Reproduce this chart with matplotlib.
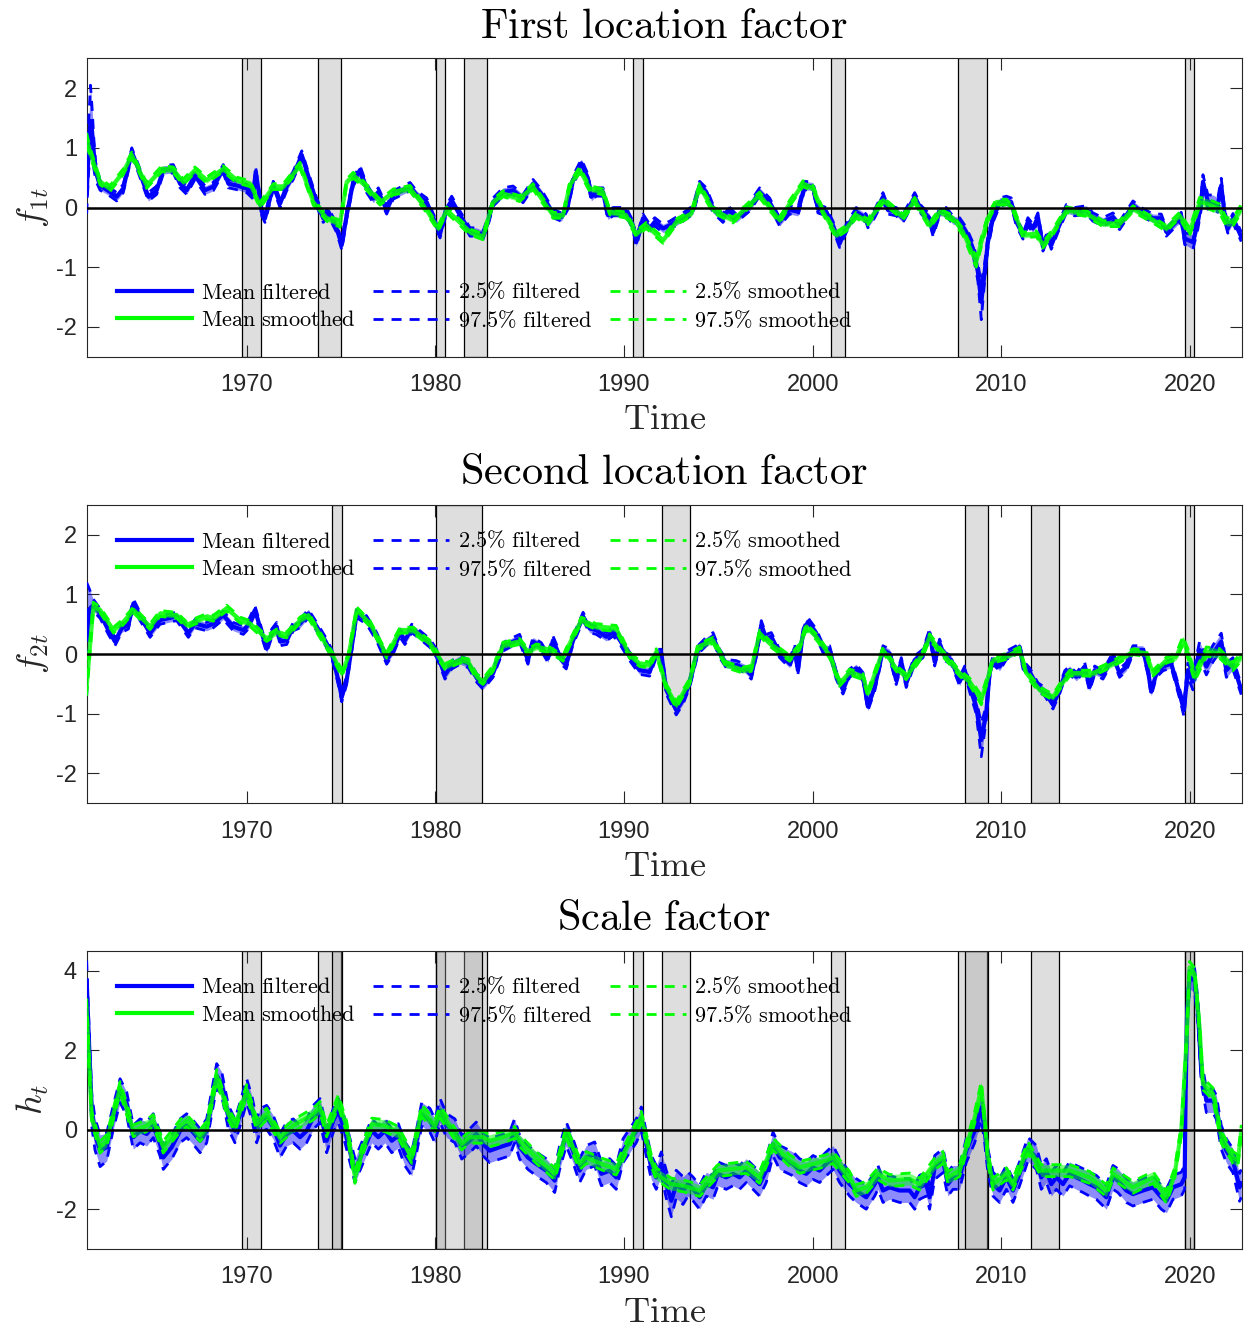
import numpy as np
import matplotlib
matplotlib.use("Agg")
import matplotlib.pyplot as plt
from matplotlib.lines import Line2D

plt.rcParams['mathtext.fontset'] = 'cm'
plt.rcParams['font.family'] = ['Liberation Sans', 'DejaVu Sans']
plt.rcParams['axes.unicode_minus'] = False

# ---------------- data: [year, mean, half-width of 95% band] ----------------
P1_FILT = np.array([
    [1961.52, 0.20, 0.30], [1961.62, 1.00, 0.40], [1961.72, 1.45, 0.60], [1961.80, 1.30, 0.40],
    [1961.90, 0.90, 0.25], [1962.00, 0.60, 0.15], [1962.23, 0.37, 0.08], [1962.76, 0.26, 0.07],
    [1963.11, 0.18, 0.07], [1963.46, 0.32, 0.07], [1963.91, 0.93, 0.07], [1964.26, 0.65, 0.07],
    [1964.79, 0.18, 0.07], [1965.23, 0.29, 0.07], [1965.58, 0.63, 0.07], [1966.11, 0.65, 0.07],
    [1966.47, 0.40, 0.07], [1966.82, 0.29, 0.07], [1967.26, 0.54, 0.07], [1967.79, 0.29, 0.07],
    [1968.23, 0.35, 0.07], [1968.76, 0.65, 0.07], [1969.03, 0.40, 0.07], [1969.47, 0.37, 0.07],
    [1970.00, 0.32, 0.07], [1970.35, 0.21, 0.07], [1970.48, 0.60, 0.07], [1970.80, -0.07, 0.07],
    [1970.97, -0.18, 0.07], [1971.41, 0.37, 0.07], [1971.77, 0.07, 0.07], [1972.12, 0.35, 0.07],
    [1972.47, 0.54, 0.07], [1972.92, 0.88, 0.07], [1973.36, 0.43, 0.07], [1973.71, 0.09, 0.07],
    [1974.06, -0.18, 0.07], [1974.33, -0.07, 0.07], [1974.77, -0.35, 0.07], [1975.04, -0.63, 0.08],
    [1975.30, -0.13, 0.07], [1975.65, 0.43, 0.07], [1976.01, 0.63, 0.07], [1976.36, 0.32, 0.07],
    [1976.71, 0.15, 0.07], [1976.98, 0.26, 0.07], [1977.42, -0.04, 0.07], [1977.77, 0.21, 0.07],
    [1978.66, 0.35, 0.07], [1979.01, 0.21, 0.07], [1979.54, 0.09, 0.07], [1979.90, -0.18, 0.07],
    [1980.25, -0.44, 0.07], [1980.60, -0.02, 0.07], [1980.87, 0.12, 0.07], [1981.31, -0.13, 0.07],
    [1981.84, -0.41, 0.07], [1982.17, -0.41, 0.07], [1982.53, -0.46, 0.07], [1982.79, -0.24, 0.07],
    [1983.06, 0.09, 0.07], [1983.59, 0.26, 0.07], [1984.12, 0.29, 0.07], [1984.65, 0.15, 0.07],
    [1985.18, 0.40, 0.07], [1985.62, 0.23, 0.07], [1986.24, -0.10, 0.07], [1986.68, -0.16, 0.07],
    [1987.03, 0.04, 0.07], [1987.30, 0.46, 0.07], [1987.74, 0.74, 0.07], [1988.09, 0.49, 0.07],
    [1988.27, 0.18, 0.07], [1988.53, 0.26, 0.07], [1988.89, 0.26, 0.07], [1989.15, -0.13, 0.07],
    [1989.42, -0.07, 0.07], [1990.12, -0.07, 0.07], [1990.48, -0.30, 0.07], [1990.65, -0.58, 0.07],
    [1991.01, -0.18, 0.07], [1991.36, -0.35, 0.07], [1991.63, -0.24, 0.07], [1992.07, -0.35, 0.07],
    [1992.42, -0.30, 0.07], [1993.13, -0.16, 0.07], [1993.66, -0.04, 0.07], [1994.01, 0.37, 0.07],
    [1994.36, 0.26, 0.07], [1994.72, -0.02, 0.07], [1995.25, -0.18, 0.07], [1995.51, -0.04, 0.07],
    [1995.95, -0.18, 0.07], [1996.66, 0.01, 0.07], [1997.19, 0.26, 0.07], [1997.72, 0.09, 0.07],
    [1998.25, -0.24, 0.07], [1998.78, -0.04, 0.07], [1999.22, -0.07, 0.07], [1999.58, 0.37, 0.07],
    [2000.02, 0.35, 0.07], [2000.28, -0.02, 0.07], [2000.72, -0.07, 0.07], [2001.08, -0.30, 0.07],
    [2001.43, -0.60, 0.07], [2001.78, -0.35, 0.07], [2002.31, -0.07, 0.07], [2002.84, -0.18, 0.07],
    [2002.93, -0.27, 0.07], [2003.29, -0.10, 0.07], [2003.73, 0.18, 0.07], [2003.99, -0.04, 0.07],
    [2004.43, -0.07, 0.07], [2004.79, -0.18, 0.07], [2005.41, 0.18, 0.07], [2005.76, -0.04, 0.07],
    [2006.20, -0.18, 0.07], [2006.38, -0.41, 0.07], [2006.73, -0.07, 0.07], [2007.08, -0.07, 0.07],
    [2007.44, -0.21, 0.07], [2007.79, -0.24, 0.07], [2008.14, -0.41, 0.08], [2008.50, -0.69, 0.10],
    [2008.76, -1.08, 0.15], [2008.94, -1.58, 0.30], [2009.12, -1.08, 0.15], [2009.29, -0.58, 0.10],
    [2009.56, -0.18, 0.07], [2009.91, 0.09, 0.07], [2010.27, 0.12, 0.07], [2010.53, 0.09, 0.07],
    [2010.80, -0.24, 0.07], [2011.15, -0.46, 0.07], [2011.41, -0.24, 0.07], [2011.68, -0.35, 0.07],
    [2011.94, -0.16, 0.07], [2012.21, -0.66, 0.07], [2012.47, -0.46, 0.07], [2012.65, -0.63, 0.07],
    [2013.00, -0.35, 0.07], [2013.45, -0.02, 0.07], [2013.89, -0.07, 0.07], [2014.51, -0.04, 0.07],
    [2014.86, -0.16, 0.07], [2015.39, -0.24, 0.07], [2015.92, -0.16, 0.07], [2016.27, -0.30, 0.07],
    [2016.63, -0.13, 0.07], [2016.98, 0.04, 0.07], [2017.42, -0.07, 0.07], [2018.04, -0.18, 0.07],
    [2018.48, -0.18, 0.07], [2018.75, -0.41, 0.07], [2019.28, -0.24, 0.07], [2019.54, -0.16, 0.08],
    [2019.72, -0.52, 0.10], [2020.16, -0.58, 0.12], [2020.42, -0.24, 0.12], [2020.60, 0.09, 0.12],
    [2020.69, 0.43, 0.12], [2020.95, 0.09, 0.12], [2021.22, 0.09, 0.12], [2021.48, 0.04, 0.12],
    [2021.66, 0.37, 0.12], [2021.84, -0.13, 0.10], [2022.01, -0.35, 0.08], [2022.28, -0.18, 0.08],
    [2022.72, -0.49, 0.08],
])

P1_SMOOTH = np.array([
    [1961.52, 1.15, 0.10], [1961.70, 0.93, 0.08], [1962.23, 0.43, 0.05], [1962.76, 0.32, 0.05],
    [1963.46, 0.60, 0.05], [1963.91, 0.88, 0.05], [1964.70, 0.37, 0.05], [1965.50, 0.65, 0.05],
    [1966.11, 0.63, 0.05], [1966.64, 0.43, 0.05], [1967.26, 0.63, 0.05], [1967.88, 0.46, 0.05],
    [1968.76, 0.65, 0.05], [1969.47, 0.46, 0.05], [1970.18, 0.40, 0.05], [1970.71, 0.04, 0.05],
    [1971.41, 0.35, 0.05], [1971.94, 0.35, 0.05], [1972.83, 0.71, 0.05], [1973.53, 0.09, 0.05],
    [1974.24, -0.18, 0.05], [1974.95, -0.27, 0.06], [1975.30, 0.43, 0.05], [1975.65, 0.54, 0.05],
    [1976.18, 0.40, 0.05], [1977.07, 0.09, 0.05], [1977.77, 0.26, 0.05], [1978.66, 0.32, 0.05],
    [1979.36, 0.04, 0.05], [1980.16, -0.35, 0.05], [1980.60, -0.04, 0.05], [1981.84, -0.41, 0.05],
    [1982.53, -0.49, 0.05], [1983.06, 0.09, 0.05], [1983.59, 0.23, 0.05], [1984.47, 0.15, 0.05],
    [1985.18, 0.35, 0.05], [1986.24, -0.13, 0.05], [1986.77, -0.13, 0.05], [1987.12, 0.37, 0.05],
    [1987.65, 0.63, 0.05], [1988.18, 0.32, 0.05], [1988.89, 0.26, 0.05], [1989.24, -0.07, 0.05],
    [1990.12, -0.13, 0.05], [1990.65, -0.44, 0.05], [1991.18, -0.30, 0.05], [1992.07, -0.55, 0.05],
    [1992.77, -0.24, 0.05], [1993.57, -0.10, 0.05], [1994.01, 0.35, 0.05], [1994.72, -0.04, 0.05],
    [1995.78, -0.21, 0.05], [1997.19, 0.21, 0.05], [1998.25, -0.21, 0.05], [1998.78, 0.07, 0.05],
    [1999.49, 0.40, 0.05], [2000.02, 0.32, 0.05], [2000.55, -0.07, 0.05], [2001.25, -0.46, 0.05],
    [2001.78, -0.35, 0.05], [2002.31, -0.13, 0.05], [2002.93, -0.24, 0.05], [2003.73, 0.12, 0.05],
    [2004.79, -0.16, 0.05], [2005.41, 0.12, 0.05], [2006.20, -0.30, 0.05], [2006.73, -0.07, 0.05],
    [2007.44, -0.18, 0.05], [2007.97, -0.41, 0.06], [2008.50, -0.80, 0.08], [2008.67, -0.91, 0.09],
    [2008.94, -0.58, 0.08], [2009.29, -0.18, 0.06], [2009.73, 0.09, 0.05], [2010.27, 0.09, 0.05],
    [2010.62, -0.02, 0.05], [2011.15, -0.46, 0.05], [2011.86, -0.44, 0.05], [2012.21, -0.63, 0.05],
    [2012.74, -0.41, 0.05], [2013.45, -0.04, 0.05], [2014.51, -0.10, 0.05], [2015.39, -0.27, 0.05],
    [2016.27, -0.27, 0.05], [2016.98, -0.02, 0.05], [2018.04, -0.21, 0.05], [2018.75, -0.35, 0.05],
    [2019.45, -0.13, 0.05], [2019.98, -0.41, 0.07], [2020.51, 0.09, 0.08], [2020.87, 0.07, 0.08],
    [2021.57, -0.02, 0.08], [2021.93, -0.24, 0.07], [2022.28, -0.24, 0.07], [2022.72, -0.02, 0.07],
])

P2_FILT = np.array([
    [1961.52, 0.25, 0.95], [1961.65, 0.75, 0.35], [1961.87, 0.82, 0.10], [1962.23, 0.68, 0.08],
    [1962.67, 0.40, 0.07], [1963.02, 0.21, 0.07], [1963.37, 0.43, 0.07], [1963.73, 0.49, 0.07],
    [1964.00, 0.85, 0.07], [1964.35, 0.63, 0.07], [1964.88, 0.35, 0.07], [1965.41, 0.57, 0.07],
    [1965.85, 0.60, 0.07], [1966.29, 0.63, 0.07], [1966.91, 0.35, 0.07], [1967.26, 0.51, 0.07],
    [1967.88, 0.46, 0.07], [1968.23, 0.51, 0.07], [1968.76, 0.65, 0.07], [1969.29, 0.46, 0.07],
    [1969.82, 0.40, 0.07], [1970.09, 0.49, 0.07], [1970.44, 0.74, 0.07], [1970.80, 0.35, 0.07],
    [1971.06, 0.09, 0.07], [1971.33, 0.35, 0.07], [1971.59, 0.46, 0.07], [1971.77, 0.21, 0.07],
    [1972.12, 0.23, 0.07], [1972.47, 0.46, 0.07], [1972.83, 0.51, 0.07], [1973.27, 0.68, 0.07],
    [1973.71, 0.46, 0.07], [1974.15, 0.23, 0.07], [1974.51, 0.01, 0.07], [1974.86, -0.44, 0.08],
    [1975.04, -0.72, 0.08], [1975.30, -0.44, 0.07], [1975.57, 0.12, 0.07], [1975.83, 0.68, 0.07],
    [1976.36, 0.57, 0.07], [1976.89, 0.29, 0.07], [1977.42, -0.10, 0.07], [1977.77, 0.07, 0.07],
    [1978.13, 0.35, 0.07], [1978.39, 0.23, 0.07], [1978.75, 0.43, 0.07], [1979.19, 0.32, 0.07],
    [1979.72, 0.18, 0.07], [1980.07, 0.01, 0.07], [1980.51, -0.35, 0.07], [1980.87, -0.18, 0.07],
    [1981.31, -0.10, 0.07], [1981.75, -0.16, 0.07], [1982.19, -0.40, 0.07], [1982.53, -0.52, 0.07],
    [1983.06, -0.32, 0.07], [1983.59, 0.12, 0.07], [1983.94, 0.18, 0.07], [1984.47, 0.26, 0.07],
    [1984.91, -0.10, 0.07], [1985.18, 0.21, 0.07], [1985.62, 0.12, 0.07], [1985.97, -0.07, 0.07],
    [1986.24, 0.23, 0.07], [1986.68, -0.10, 0.07], [1986.94, -0.18, 0.07], [1987.30, 0.23, 0.07],
    [1987.83, 0.63, 0.07], [1988.18, 0.43, 0.07], [1988.53, 0.40, 0.07], [1989.06, 0.29, 0.07],
    [1989.42, 0.37, 0.07], [1989.68, 0.29, 0.07], [1990.30, -0.04, 0.07], [1990.83, -0.27, 0.07],
    [1991.36, -0.30, 0.07], [1991.71, 0.01, 0.07], [1991.98, 0.01, 0.07], [1992.24, -0.60, 0.07],
    [1992.77, -0.94, 0.08], [1993.13, -0.77, 0.07], [1993.48, -0.49, 0.07], [1993.92, 0.07, 0.07],
    [1994.36, 0.21, 0.07], [1994.72, 0.29, 0.07], [1995.07, 0.01, 0.07], [1995.42, -0.16, 0.07],
    [1995.95, -0.18, 0.07], [1996.40, -0.24, 0.07], [1996.75, -0.35, 0.07], [1997.01, 0.01, 0.07],
    [1997.28, 0.49, 0.07], [1997.54, 0.26, 0.07], [1997.81, 0.29, 0.07], [1998.25, 0.01, 0.07],
    [1998.78, -0.16, 0.07], [1999.05, 0.09, 0.07], [1999.22, -0.27, 0.07], [1999.49, 0.35, 0.07],
    [1999.75, 0.54, 0.07], [2000.19, 0.35, 0.07], [2000.55, 0.09, 0.07], [2000.90, 0.07, 0.07],
    [2001.25, -0.35, 0.07], [2001.61, -0.60, 0.07], [2001.96, -0.32, 0.07], [2002.31, -0.24, 0.07],
    [2002.67, -0.38, 0.07], [2002.93, -0.88, 0.07], [2003.29, -0.55, 0.07], [2003.73, 0.07, 0.07],
    [2004.08, 0.01, 0.07], [2004.43, -0.44, 0.07], [2004.70, -0.13, 0.07], [2004.96, -0.49, 0.07],
    [2005.41, -0.10, 0.07], [2005.85, 0.01, 0.07], [2006.20, 0.35, 0.07], [2006.47, -0.13, 0.07],
    [2006.73, 0.18, 0.07], [2007.00, -0.04, 0.07], [2007.35, -0.10, 0.07], [2007.79, -0.46, 0.07],
    [2008.06, -0.27, 0.07], [2008.32, -0.55, 0.08], [2008.67, -0.88, 0.12], [2008.94, -1.44, 0.28],
    [2009.20, -0.99, 0.12], [2009.38, -0.32, 0.08], [2009.56, -0.10, 0.07], [2009.91, -0.21, 0.07],
    [2010.27, -0.02, 0.07], [2010.80, 0.07, 0.07], [2010.97, 0.12, 0.07], [2011.15, -0.18, 0.07],
    [2011.50, -0.30, 0.07], [2011.94, -0.55, 0.07], [2012.30, -0.63, 0.07], [2012.74, -0.85, 0.07],
    [2013.09, -0.60, 0.07], [2013.36, -0.35, 0.07], [2013.62, -0.27, 0.07], [2013.98, -0.38, 0.07],
    [2014.42, -0.21, 0.07], [2014.68, -0.55, 0.07], [2014.95, -0.27, 0.07], [2015.39, -0.35, 0.07],
    [2015.92, -0.04, 0.07], [2016.27, -0.32, 0.07], [2016.63, -0.21, 0.07], [2016.98, 0.07, 0.07],
    [2017.51, 0.07, 0.07], [2017.77, -0.27, 0.07], [2017.95, -0.63, 0.07], [2018.22, -0.32, 0.07],
    [2018.57, -0.21, 0.07], [2019.01, -0.16, 0.07], [2019.45, -0.66, 0.08], [2019.68, -0.94, 0.10],
    [2019.89, -0.27, 0.12], [2020.16, -0.46, 0.14], [2020.51, 0.07, 0.14], [2020.87, -0.21, 0.14],
    [2021.22, 0.01, 0.14], [2021.66, 0.21, 0.14], [2021.93, -0.27, 0.12], [2022.28, -0.16, 0.10],
    [2022.72, -0.60, 0.08],
])

P2_SMOOTH = np.array([
    [1961.52, -0.55, 0.15], [1961.87, 0.79, 0.08], [1962.23, 0.74, 0.05], [1962.94, 0.40, 0.05],
    [1963.46, 0.54, 0.05], [1964.00, 0.74, 0.05], [1964.88, 0.46, 0.05], [1965.41, 0.68, 0.05],
    [1966.29, 0.65, 0.05], [1966.82, 0.49, 0.05], [1967.88, 0.63, 0.05], [1968.23, 0.60, 0.05],
    [1968.94, 0.77, 0.05], [1969.65, 0.57, 0.05], [1970.18, 0.51, 0.05], [1971.06, 0.26, 0.05],
    [1971.59, 0.37, 0.05], [1972.12, 0.32, 0.05], [1972.83, 0.57, 0.05], [1973.27, 0.65, 0.05],
    [1974.06, 0.23, 0.05], [1974.59, -0.04, 0.05], [1975.04, -0.32, 0.06], [1975.39, -0.04, 0.05],
    [1975.83, 0.74, 0.05], [1976.54, 0.51, 0.05], [1977.42, -0.02, 0.05], [1978.13, 0.40, 0.05],
    [1978.83, 0.40, 0.05], [1979.72, 0.18, 0.05], [1980.07, 0.01, 0.05], [1980.51, -0.21, 0.05],
    [1981.31, -0.10, 0.05], [1981.75, -0.13, 0.05], [1982.19, -0.38, 0.05], [1982.53, -0.46, 0.05],
    [1983.06, -0.24, 0.05], [1983.59, 0.15, 0.05], [1984.47, 0.21, 0.05], [1984.91, 0.04, 0.05],
    [1985.35, 0.12, 0.05], [1986.06, 0.07, 0.05], [1986.77, -0.07, 0.05], [1987.12, 0.18, 0.05],
    [1987.74, 0.57, 0.05], [1988.53, 0.46, 0.05], [1989.59, 0.43, 0.05], [1990.30, -0.02, 0.05],
    [1990.83, -0.16, 0.05], [1991.36, -0.18, 0.05], [1991.71, 0.04, 0.05], [1992.24, -0.55, 0.05],
    [1992.77, -0.85, 0.06], [1993.48, -0.46, 0.05], [1993.92, 0.12, 0.05], [1994.72, 0.23, 0.05],
    [1995.42, -0.18, 0.05], [1996.31, -0.27, 0.05], [1996.75, -0.24, 0.05], [1997.19, 0.35, 0.05],
    [1997.72, 0.18, 0.05], [1998.78, -0.07, 0.05], [1999.31, 0.12, 0.05], [1999.66, 0.46, 0.05],
    [2000.19, 0.29, 0.05], [2000.90, -0.02, 0.05], [2001.43, -0.49, 0.05], [2001.96, -0.30, 0.05],
    [2002.67, -0.38, 0.05], [2002.93, -0.66, 0.05], [2003.73, 0.07, 0.05], [2004.43, -0.24, 0.05],
    [2004.96, -0.38, 0.05], [2005.85, 0.01, 0.05], [2006.20, 0.29, 0.05], [2006.73, 0.07, 0.05],
    [2007.79, -0.32, 0.05], [2008.32, -0.46, 0.06], [2008.94, -0.77, 0.08], [2009.20, -0.49, 0.06],
    [2009.56, -0.10, 0.05], [2010.27, -0.04, 0.05], [2010.97, 0.07, 0.05], [2011.33, -0.32, 0.05],
    [2012.03, -0.60, 0.05], [2012.74, -0.72, 0.05], [2013.09, -0.55, 0.05], [2013.62, -0.32, 0.05],
    [2014.86, -0.32, 0.05], [2015.92, -0.16, 0.05], [2016.98, 0.04, 0.05], [2017.69, 0.01, 0.05],
    [2018.04, -0.32, 0.05], [2018.75, -0.10, 0.05], [2019.28, -0.04, 0.06], [2019.63, 0.23, 0.07],
    [2019.89, 0.01, 0.08], [2020.25, -0.38, 0.08], [2020.87, 0.04, 0.08], [2021.57, 0.01, 0.08],
    [2022.28, -0.21, 0.07], [2022.72, -0.04, 0.07],
])

P3_FILT = np.array([
    [1961.52, 3.75, 0.50], [1961.61, 2.57, 0.45], [1961.79, 0.48, 0.40], [1961.96, -0.11, 0.40],
    [1962.23, -0.53, 0.40], [1962.58, -0.44, 0.35], [1962.93, 0.31, 0.30], [1963.29, 0.98, 0.30],
    [1963.64, 0.65, 0.30], [1963.99, -0.19, 0.30], [1964.35, -0.03, 0.30], [1964.70, -0.11, 0.30],
    [1965.05, 0.10, 0.30], [1965.41, -0.36, 0.30], [1965.58, -0.70, 0.30], [1966.03, -0.44, 0.30],
    [1966.47, -0.03, 0.30], [1966.82, 0.10, 0.30], [1967.17, -0.07, 0.30], [1967.53, -0.28, 0.30],
    [1967.88, -0.03, 0.30], [1968.23, 0.90, 0.30], [1968.41, 1.36, 0.30], [1968.68, 1.15, 0.30],
    [1969.03, 0.31, 0.30], [1969.38, -0.03, 0.30], [1969.65, 0.39, 0.30], [1970.00, 0.98, 0.30],
    [1970.27, 0.56, 0.30], [1970.53, -0.03, 0.30], [1970.71, 0.23, 0.30], [1971.06, 0.31, 0.30],
    [1971.41, 0.06, 0.30], [1971.77, -0.40, 0.30], [1972.12, -0.11, 0.30], [1972.47, -0.03, 0.30],
    [1972.83, -0.19, 0.30], [1973.18, -0.03, 0.30], [1973.53, 0.31, 0.30], [1973.89, 0.48, 0.30],
    [1974.24, -0.28, 0.30], [1974.59, 0.23, 0.30], [1974.86, 0.48, 0.30], [1975.21, -0.03, 0.30],
    [1975.48, -0.53, 0.30], [1975.74, -1.03, 0.30], [1976.18, -0.53, 0.30], [1976.63, -0.03, 0.30],
    [1976.98, -0.19, 0.30], [1977.33, -0.03, 0.30], [1977.69, -0.28, 0.30], [1978.04, -0.15, 0.30],
    [1978.39, -0.61, 0.30], [1978.75, -0.86, 0.30], [1979.01, -0.28, 0.30], [1979.28, 0.39, 0.30],
    [1979.72, 0.23, 0.30], [1979.98, -0.03, 0.30], [1980.25, 0.48, 0.30], [1980.60, 0.10, 0.30],
    [1981.04, -0.03, 0.30], [1981.40, -0.44, 0.30], [1981.82, -0.28, 0.30], [1982.17, -0.11, 0.30],
    [1982.53, -0.36, 0.30], [1982.88, -0.53, 0.30], [1983.41, -0.44, 0.30], [1983.94, -0.36, 0.30],
    [1984.20, -0.03, 0.30], [1984.47, -0.44, 0.30], [1984.91, -0.70, 0.30], [1985.35, -0.86, 0.30],
    [1985.88, -1.03, 0.30], [1986.33, -1.28, 0.30], [1986.59, -0.70, 0.30], [1986.94, -0.11, 0.30],
    [1987.30, -0.53, 0.30], [1987.65, -1.03, 0.30], [1988.00, -0.70, 0.30], [1988.45, -0.61, 0.30],
    [1988.80, -1.11, 0.30], [1989.24, -1.03, 0.30], [1989.59, -1.20, 0.30], [1989.95, -0.53, 0.30],
    [1990.30, -0.28, 0.30], [1990.65, -0.03, 0.30], [1990.92, 0.27, 0.30], [1991.18, -0.36, 0.30],
    [1991.45, -0.95, 0.30], [1991.71, -1.20, 0.30], [1991.98, -0.86, 0.30], [1992.24, -1.37, 0.35],
    [1992.51, -1.79, 0.40], [1992.77, -1.37, 0.35], [1993.13, -1.53, 0.35], [1993.39, -1.37, 0.30],
    [1993.66, -1.49, 0.30], [1994.01, -1.70, 0.30], [1994.36, -1.37, 0.30], [1994.72, -1.45, 0.30],
    [1994.98, -1.11, 0.30], [1995.42, -1.20, 0.30], [1995.78, -1.11, 0.30], [1996.13, -1.20, 0.30],
    [1996.48, -1.03, 0.30], [1996.84, -1.20, 0.30], [1997.19, -1.37, 0.30], [1997.54, -1.03, 0.30],
    [1997.90, -0.36, 0.30], [1998.25, -0.70, 0.30], [1998.60, -0.78, 0.30], [1998.96, -0.86, 0.30],
    [1999.31, -1.03, 0.30], [1999.66, -1.11, 0.30], [2000.02, -0.95, 0.30], [2000.37, -1.03, 0.30],
    [2000.72, -0.86, 0.30], [2001.08, -0.70, 0.30], [2001.43, -1.03, 0.30], [2001.96, -1.37, 0.30],
    [2002.31, -1.53, 0.30], [2002.84, -1.70, 0.30], [2003.29, -1.37, 0.30], [2003.46, -1.20, 0.30],
    [2003.73, -1.53, 0.30], [2004.08, -1.45, 0.30], [2004.61, -1.53, 0.30], [2005.14, -1.53, 0.30],
    [2005.41, -1.70, 0.30], [2005.67, -1.45, 0.30], [2006.02, -1.37, 0.30], [2006.20, -1.70, 0.30],
    [2006.47, -0.95, 0.30], [2006.91, -0.78, 0.30], [2007.17, -1.37, 0.30], [2007.44, -1.20, 0.30],
    [2007.79, -1.20, 0.30], [2008.14, -0.53, 0.30], [2008.59, -0.03, 0.30], [2008.94, 0.56, 0.30],
    [2009.12, -0.03, 0.30], [2009.29, -0.78, 0.30], [2009.56, -1.37, 0.30], [2009.91, -1.53, 0.30],
    [2010.27, -1.20, 0.30], [2010.62, -1.53, 0.30], [2010.97, -1.11, 0.30], [2011.41, -0.49, 0.30],
    [2011.86, -0.70, 0.30], [2012.12, -1.20, 0.30], [2012.39, -1.03, 0.30], [2012.65, -1.37, 0.30],
    [2012.92, -1.20, 0.30], [2013.27, -1.37, 0.30], [2013.62, -1.11, 0.30], [2013.98, -1.20, 0.30],
    [2014.33, -1.28, 0.30], [2014.68, -1.37, 0.30], [2015.04, -1.45, 0.30], [2015.57, -1.70, 0.30],
    [2015.92, -1.20, 0.30], [2016.18, -1.28, 0.30], [2016.63, -1.53, 0.30], [2016.98, -1.62, 0.30],
    [2017.51, -1.53, 0.30], [2018.04, -1.45, 0.30], [2018.48, -1.70, 0.30], [2018.75, -1.79, 0.30],
    [2019.10, -1.45, 0.30], [2019.54, -1.37, 0.30], [2019.72, -1.20, 0.30], [2019.77, 0.90, 0.30],
    [2019.85, 2.90, 0.30], [2019.98, 3.83, 0.30], [2020.25, 3.75, 0.30], [2020.42, 2.99, 0.30],
    [2020.60, 1.48, 0.30], [2020.87, 0.73, 0.30], [2021.22, 0.73, 0.30], [2021.40, 0.56, 0.30],
    [2021.66, -0.19, 0.30], [2021.93, -0.53, 0.30], [2022.28, -0.78, 0.30], [2022.63, -1.45, 0.35],
    [2022.72, -1.35, 0.35],
])

P3_SMOOTH = np.array([
    [1961.52, 3.00, 0.30], [1961.79, 0.31, 0.15], [1962.23, -0.44, 0.15], [1962.58, -0.28, 0.15],
    [1963.29, 1.06, 0.15], [1963.99, -0.03, 0.15], [1964.70, 0.10, 0.15], [1965.05, 0.23, 0.15],
    [1965.58, -0.44, 0.15], [1966.47, 0.10, 0.15], [1966.82, 0.23, 0.15], [1967.53, -0.15, 0.15],
    [1967.88, 0.06, 0.15], [1968.41, 1.36, 0.15], [1969.03, 0.39, 0.15], [1969.38, 0.10, 0.15],
    [1970.00, 0.98, 0.15], [1970.53, 0.14, 0.15], [1971.06, 0.39, 0.15], [1971.77, -0.19, 0.15],
    [1972.47, 0.10, 0.15], [1973.53, 0.39, 0.15], [1973.89, 0.56, 0.15], [1974.24, -0.03, 0.15],
    [1974.86, 0.73, 0.15], [1975.30, 0.06, 0.15], [1975.74, -1.20, 0.15], [1976.18, -0.44, 0.15],
    [1976.63, 0.14, 0.15], [1977.33, 0.10, 0.15], [1978.04, -0.07, 0.15], [1978.75, -0.70, 0.15],
    [1979.28, 0.48, 0.15], [1979.98, 0.10, 0.15], [1980.25, 0.44, 0.15], [1981.40, -0.36, 0.15],
    [1981.82, -0.19, 0.15], [1982.53, -0.19, 0.15], [1982.88, -0.28, 0.15], [1983.59, -0.19, 0.15],
    [1984.20, -0.07, 0.15], [1984.47, -0.28, 0.15], [1985.35, -0.70, 0.15], [1986.33, -1.11, 0.15],
    [1986.94, -0.07, 0.15], [1987.65, -0.86, 0.15], [1988.00, -0.70, 0.15], [1988.80, -0.86, 0.15],
    [1989.59, -0.99, 0.15], [1990.30, -0.28, 0.15], [1990.92, 0.31, 0.15], [1991.45, -0.78, 0.15],
    [1991.71, -1.11, 0.15], [1992.51, -1.37, 0.15], [1993.13, -1.41, 0.15], [1994.01, -1.53, 0.15],
    [1994.98, -1.03, 0.15], [1996.48, -0.95, 0.15], [1997.19, -1.20, 0.15], [1997.90, -0.36, 0.15],
    [1998.78, -0.78, 0.15], [1999.31, -0.95, 0.15], [2000.72, -0.78, 0.15], [2001.08, -0.70, 0.15],
    [2001.96, -1.20, 0.15], [2002.31, -1.53, 0.15], [2002.84, -1.45, 0.15], [2003.46, -1.11, 0.15],
    [2004.08, -1.28, 0.15], [2005.14, -1.24, 0.15], [2005.67, -1.37, 0.15], [2006.47, -0.86, 0.15],
    [2006.91, -0.70, 0.15], [2007.17, -1.20, 0.15], [2007.79, -1.03, 0.15], [2008.14, -0.45, 0.15],
    [2008.59, 0.31, 0.15], [2008.94, 1.06, 0.15], [2009.12, 0.23, 0.15], [2009.29, -0.70, 0.15],
    [2009.56, -1.37, 0.15], [2010.27, -1.11, 0.15], [2010.62, -1.37, 0.15], [2011.41, -0.45, 0.15],
    [2012.12, -1.03, 0.15], [2012.92, -1.03, 0.15], [2013.62, -1.03, 0.15], [2014.68, -1.20, 0.15],
    [2015.57, -1.53, 0.15], [2015.92, -1.11, 0.15], [2016.98, -1.45, 0.15], [2018.04, -1.20, 0.15],
    [2018.75, -1.70, 0.15], [2019.19, -1.11, 0.15], [2019.54, -0.03, 0.15], [2019.81, 2.15, 0.15],
    [2019.98, 4.08, 0.15], [2020.25, 3.91, 0.15], [2020.51, 2.57, 0.15], [2020.69, 1.15, 0.15],
    [2021.22, 0.90, 0.15], [2021.66, -0.19, 0.15], [2022.28, -0.70, 0.15], [2022.54, -0.78, 0.15],
    [2022.72, -0.03, 0.15],
])

# recession bands (start, end) in years
RECESSIONS_1 = [(1969.77, 1970.76), (1973.76, 1975.01), (1980.02, 1980.53), (1981.50, 1982.73),
                (1990.49, 1991.00), (2001.00, 2001.74), (2007.72, 2009.24), (2019.74, 2020.23)]
RECESSIONS_2 = [(1974.50, 1975.03), (1980.02, 1982.50), (1991.99, 1993.49), (2008.07, 2009.30),
                (2011.56, 2013.04), (2019.74, 2020.23)]

TITLES = ['First location factor', 'Second location factor', 'Scale factor']
YLABELS = [r'$f_{1t}$', r'$f_{2t}$', r'$h_t$']
XTICKS = [1970, 1980, 1990, 2000, 2010, 2020]
YTICKS = [[-2, -1, 0, 1, 2], [-2, -1, 0, 1, 2], [-2, 0, 2, 4]]
YLIMS = [(-2.5, 2.5), (-2.5, 2.5), (-3, 4.5)]
XLIM = (1961.52, 2022.74)

LEG_LABELS = [r'$\mathrm{Mean\ filtered}$', r'$\mathrm{Mean\ smoothed}$',
              r'$\mathrm{2.5\%\ filtered}$', r'$\mathrm{97.5\%\ filtered}$',
              r'$\mathrm{2.5\%\ smoothed}$', r'$\mathrm{97.5\%\ smoothed}$']

BLUE = (0, 0, 1)
GREEN = (0, 1, 0)
AXC = '#262626'
DASH = (3.6, 2.9)

fig = plt.figure(figsize=(12.49, 13.29), dpi=100)
bottoms = [0.7316, 0.3956, 0.0602]
panels = [(P1_FILT, P1_SMOOTH, RECESSIONS_1),
          (P2_FILT, P2_SMOOTH, RECESSIONS_2),
          (P3_FILT, P3_SMOOTH, RECESSIONS_1 + RECESSIONS_2)]

for i, (filt, smooth, recs) in enumerate(panels):
    ax = fig.add_axes([0.0694, bottoms[i], 0.9247, 0.2245])
    for (a, b) in recs:
        ax.axvspan(a, b, facecolor=(0.65, 0.65, 0.65, 0.36), edgecolor='k', lw=0.9, zorder=1)

    fx, fm, fw = filt[:, 0], filt[:, 1], filt[:, 2]
    sx, sm, sw = smooth[:, 0], smooth[:, 1], smooth[:, 2]

    ax.fill_between(fx, fm - fw, fm + fw, color=BLUE, alpha=0.45, lw=0, zorder=2)
    ax.plot(fx, fm, color=BLUE, lw=3.0, zorder=3)
    ax.plot(fx, fm - fw, color=BLUE, lw=2.0, dashes=DASH, zorder=3)
    ax.plot(fx, fm + fw, color=BLUE, lw=2.0, dashes=DASH, zorder=3)
    ax.fill_between(sx, sm - sw, sm + sw, color=GREEN, alpha=0.5, lw=0, zorder=4)
    ax.plot(sx, sm, color=GREEN, lw=3.0, alpha=0.75, zorder=5)
    ax.plot(sx, sm - sw, color=GREEN, lw=2.0, dashes=DASH, zorder=5)
    ax.plot(sx, sm + sw, color=GREEN, lw=2.0, dashes=DASH, zorder=5)

    ax.axhline(0, color='k', lw=1.8, zorder=8)

    ax.set_xlim(*XLIM)
    ax.set_ylim(*YLIMS[i])
    ax.set_xticks(XTICKS)
    ax.set_yticks(YTICKS[i])
    ax.tick_params(direction='in', length=8.3, width=0.8, colors=AXC, labelsize=17,
                   top=True, right=True, pad=7)
    ax.tick_params(axis='x', pad=12.5)
    for sp in ax.spines.values():
        sp.set_color(AXC)
        sp.set_linewidth(0.8)

    ax.set_title(r'$\mathrm{' + TITLES[i].replace(' ', r'\ ') + '}$', fontsize=30.5, pad=15, color='k')
    ax.set_xlabel(r'$\mathrm{Time}$', fontsize=26, labelpad=4.5, color=AXC)
    ax.set_ylabel(YLABELS[i], fontsize=26, labelpad=4, color=AXC)

    handles = [Line2D([], [], color=BLUE, lw=3.0),
               Line2D([], [], color=GREEN, lw=3.0),
               Line2D([], [], color=BLUE, lw=2.0, dashes=DASH),
               Line2D([], [], color=BLUE, lw=2.0, dashes=DASH),
               Line2D([], [], color=GREEN, lw=2.0, dashes=DASH),
               Line2D([], [], color=GREEN, lw=2.0, dashes=DASH)]
    if i == 0:
        loc, anchor = 'lower left', (0.026, 0.083)
    else:
        loc, anchor = 'upper left', (0.026, 0.913)
    leg = ax.legend(handles, LEG_LABELS, ncol=3, loc=loc, bbox_to_anchor=anchor,
                    frameon=False, fontsize=16, handlelength=3.4, handletextpad=0.4,
                    columnspacing=0.8, labelspacing=0.3, borderpad=0, borderaxespad=0)
    leg.set_zorder(20)

fig.savefig('out.png', dpi=100)
